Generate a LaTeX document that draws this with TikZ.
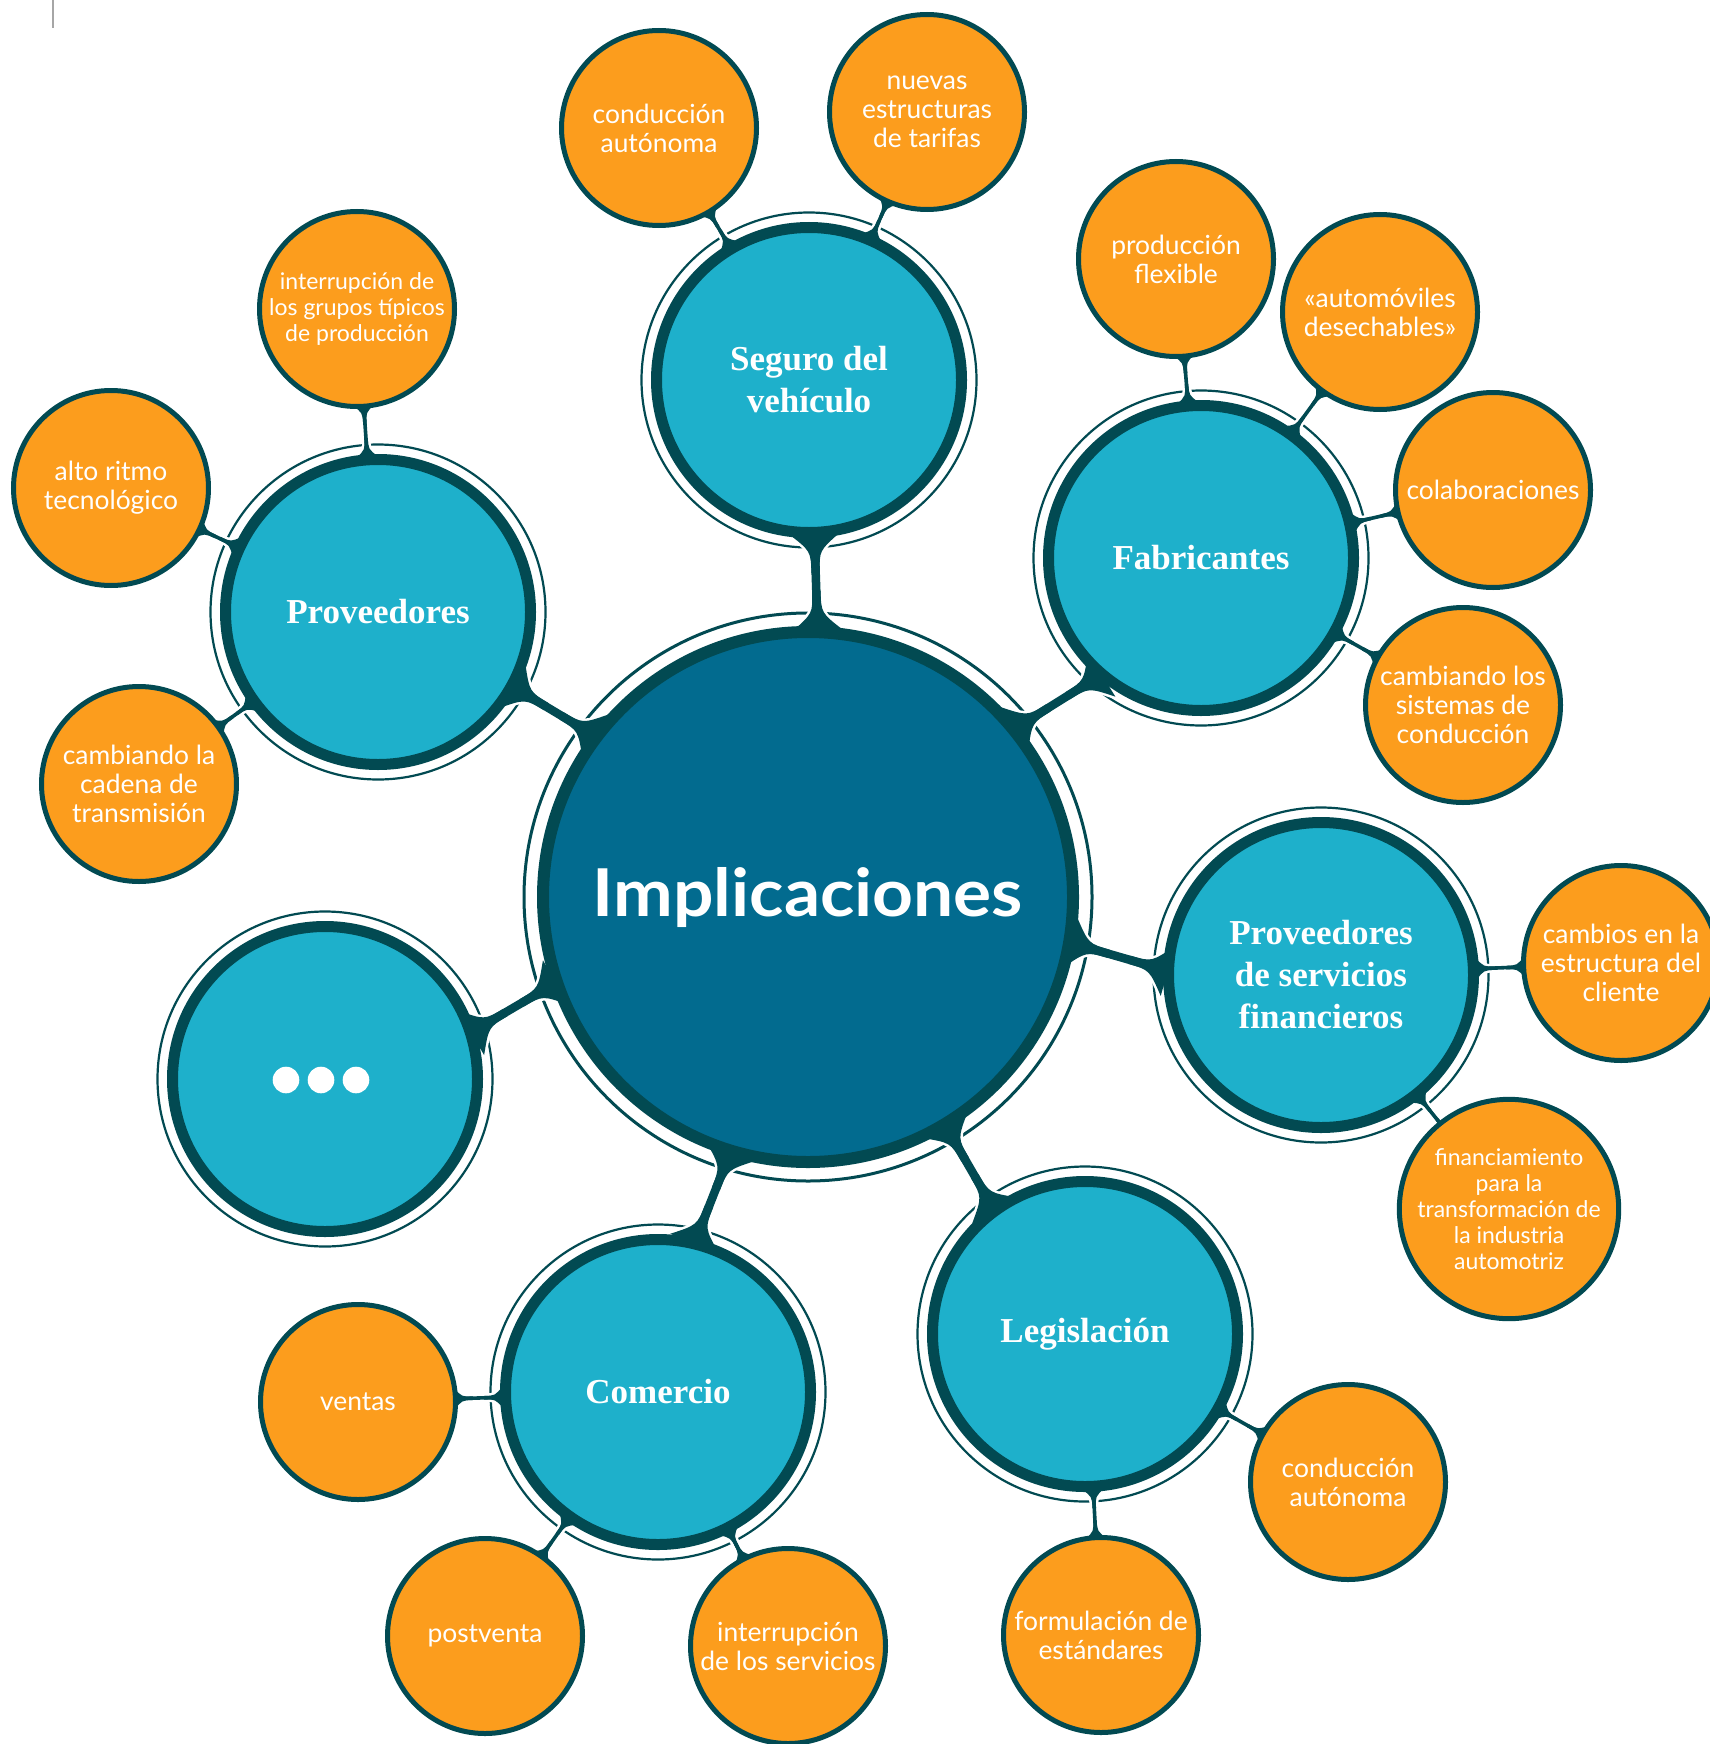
\documentclass[tikz,border=0pt]{standalone}
\usepackage{fontspec}
\setmainfont{Lato}
\newfontfamily\tserif{Liberation Serif}
\newfontfamily\bigfont{Lato}[FakeStretch=1.08]
\usetikzlibrary{calc,backgrounds}
\definecolor{tealF}{HTML}{1EB0CB}
\definecolor{darkR}{HTML}{024A52}
\definecolor{centerF}{HTML}{026B8F}
\definecolor{orangeF}{HTML}{FC9D1D}
\newcommand{\orfont}{\fontsize{26.4}{29}\selectfont}
\newcommand{\orsmall}{\fontsize{23}{26}\selectfont}
\newcommand{\tlfont}{\tserif\bfseries\fontsize{35}{42}\selectfont}
% flare shape: #1 from, #2 toward, #3 base half-width, #4 neck half-width, #5 length, #6 control distance, #7 options
\newcommand{\flare}[7]{%
  \coordinate (fM) at ($(#1)!#5!(#2)$);
  \coordinate (fK) at ($(#1)!#6!(#2)$);
  \coordinate (fP1) at ($(#1)!#3!90:(#2)$);
  \coordinate (fP2) at ($(#1)!#3!-90:(#2)$);
  \coordinate (fK1) at ($(fK)!#4!90:(#2)$);
  \coordinate (fK2) at ($(fK)!#4!-90:(#2)$);
  \coordinate (fM1) at ($(fM)!#4!90:(#2)$);
  \coordinate (fM2) at ($(fM)!#4!-90:(#2)$);
  \path[#7] (fP1) .. controls (fK1) .. (fM1) -- (fM2) .. controls (fK2) .. (fP2) -- cycle;}
% link between coordinates lA, lB: #1 neck width, #2 neck half, #3 base half-width, #4 flare length, #5 control
\newcommand{\linkbody}[5]{%
  \draw[white, line width=#1+5pt] (lA) -- (lB);
  \flare{lA}{lB}{#3}{#2}{#4}{#5}{draw=white, line width=5pt}
  \flare{lB}{lA}{#3}{#2}{#4}{#5}{draw=white, line width=5pt}
  \draw[darkR, line width=#1] (lA) -- (lB);
  \flare{lA}{lB}{#3}{#2}{#4}{#5}{fill=darkR}
  \flare{lB}{lA}{#3}{#2}{#4}{#5}{fill=darkR}}
\newcommand{\olink}[2]{%
  \coordinate (lA) at ($(#1)!96pt!(#2)$);
  \coordinate (lB) at ($(#2)!155pt!(#1)$);
  \linkbody{3.6pt}{1.8pt}{11pt}{19pt}{8pt}}
\newcommand{\mlink}[2]{%
  \coordinate (lA0) at (#1); \coordinate (lB0) at (#2);
  \coordinate (lA) at ($(lA0)!-5pt!(lB0)$);
  \coordinate (lB) at ($(lB0)!-5pt!(lA0)$);
  \linkbody{8.5pt}{4.25pt}{26pt}{40pt}{18pt}}
\tikzset{
  orangebox/.style={circle, fill=orangeF, draw=darkR, line width=5pt, minimum size=195pt,
    inner sep=0pt, align=center, text=white, font=\orfont},
  tealbox/.style={circle, fill=tealF, draw=darkR, line width=11pt, minimum size=305pt,
    inner sep=0pt, align=center, text=white, font=\tlfont},
  bigbox/.style={circle, fill=centerF, draw=darkR, line width=12pt, minimum size=530pt,
    inner sep=0pt, align=center, text=white, font=\bigfont\bfseries\fontsize{66}{72}\selectfont},
  tealring/.style={draw=darkR, line width=2.2pt},
  bigring/.style={draw=darkR, line width=3pt},
}
\begin{document}
\begin{tikzpicture}[x=1pt,y=-1pt]
\useasboundingbox (0,0) rectangle (1709,1744);
% central node
\node[bigbox] (C) at (808,897) {Implicaciones};
% teal nodes
\node[tealbox] (S) at (809,380) {Seguro del\\vehículo};
\node[tealbox] (F) at (1201,558) {Fabricantes};
\node[tealbox] (P) at (378,612) {Proveedores};
\node[tealbox] (Q) at (1321,975) {Proveedores\\de servicios\\financieros};
\node[tealbox] (L) at (1085,1334) {Legislación};
\node[tealbox] (M) at (658,1392) {Comercio};
\node[tealbox] (D) at (325,1079) {};
\foreach \dx in {-35,0,35} \fill[white] ($(D.center)+(\dx-4,1)$) circle (13.3pt);
% orange nodes
\node[orangebox] (o1) at (659,128) {conducción\\autónoma};
\node[orangebox] (o2) at (927,112) {nuevas\\estructuras\\de tarifas};
\node[orangebox] (o3) at (1176,259) {producción\\flexible};
\node[orangebox] (o4) at (1380,312) {«automóviles\\desechables»};
\node[orangebox] (o5) at (1493,490) {colaboraciones};
\node[orangebox] (o6) at (1463,705) {cambiando los\\sistemas de\\conducción};
\node[orangebox] (o7) at (1621,963) {cambios en la\\estructura del\\cliente};
\node[orangebox, font=\orsmall] (o8) at (1509,1209) {financiamiento\\para la\\transformación de\\la industria\\automotriz};
\node[orangebox] (o9) at (1348,1482) {conducción\\autónoma};
\node[orangebox] (o10) at (1101,1635) {formulación de\\estándares};
\node[orangebox] (o11) at (788,1646) {interrupción\\de los servicios};
\node[orangebox] (o12) at (485,1636) {postventa};
\node[orangebox] (o13) at (358,1402) {ventas};
\node[orangebox] (o14) at (139,784) {cambiando la\\cadena de\\transmisión};
\node[orangebox] (o15) at (111,488) {alto ritmo\\tecnológico};
\node[orangebox, font=\orsmall] (o16) at (357,309) {interrupción de\\los grupos típicos\\de producción};
% corner mark
\coordinate (mk1) at (53,0); \coordinate (mk2) at (53,28);
\draw[gray!70, line width=1.5pt] (mk1) -- (mk2);
\begin{pgfonlayer}{background}
\fill[white] (0,0) rectangle (1709,1744);
\draw[bigring] (C.center) circle (284pt);
\foreach \n in {S,F,P,Q,L,M,D} \draw[tealring] (\n.center) circle (167.5pt);
\mlink{S.-88}{C.88}
\mlink{F.-131}{C.39}
\mlink{P.-29}{C.143}
\mlink{Q.178}{C.-10}
\mlink{L.126}{C.-59}
\mlink{M.76}{C.-107}
\mlink{D.18}{C.-161}
\olink{o1}{S} \olink{o2}{S}
\olink{o3}{F} \olink{o4}{F} \olink{o5}{F} \olink{o6}{F}
\olink{o7}{Q} \olink{o8}{Q}
\olink{o9}{L} \olink{o10}{L}
\olink{o11}{M} \olink{o12}{M} \olink{o13}{M}
\olink{o14}{P} \olink{o15}{P} \olink{o16}{P}
\end{pgfonlayer}
\end{tikzpicture}
\end{document}
